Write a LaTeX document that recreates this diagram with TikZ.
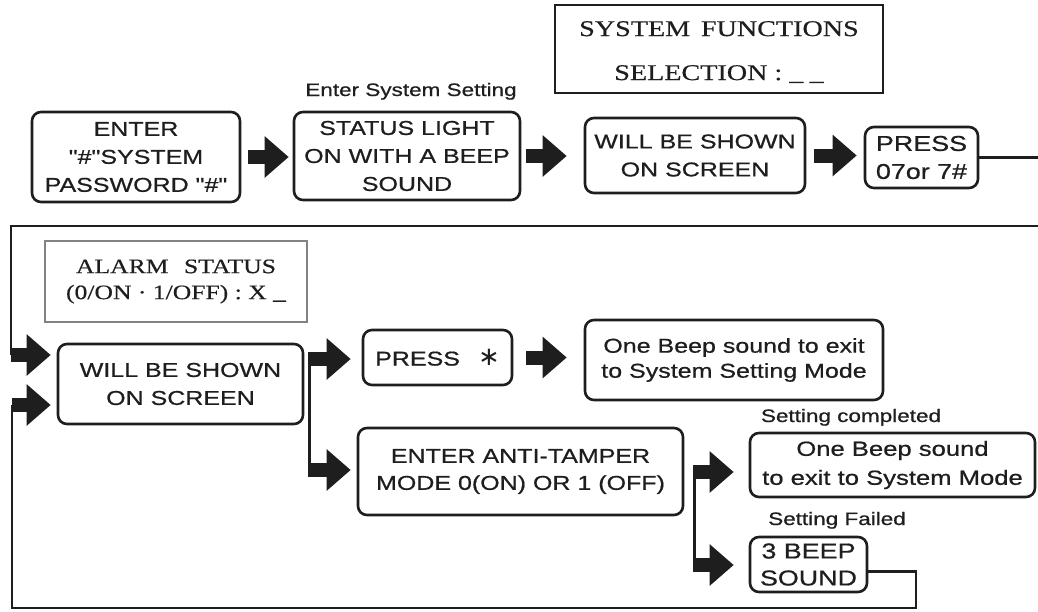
\documentclass[tikz,border=0pt]{standalone}
\usepackage{fontspec}
\newfontfamily\boxsans[FakeStretch=1.25, FakeBold=0.7]{Liberation Sans}
\newfontfamily\boxserif[FakeStretch=1.25, FakeBold=0.5]{Liberation Serif}
\newfontfamily\boxsym{DejaVu Sans}
\usetikzlibrary{arrows.meta, positioning, calc}
\definecolor{Ink}{RGB}{30,30,30}
\definecolor{ScreenGray}{RGB}{130,130,130}

\tikzset{
  stepbox/.style={draw=Ink, line width=2.6pt, rounded corners=9pt, inner sep=0pt,
    align=center, text=Ink, font=\boxsans\fontsize{20}{28}\selectfont},
  screenbox/.style={draw=Ink, line width=2.2pt, inner sep=0pt, align=center, text=Ink},
  steplabel/.style={text=Ink, inner sep=0pt, anchor=base, font=\boxsans\fontsize{18}{20}\selectfont},
  blockarr/.style={draw=Ink, line width=14pt, -{Triangle[length=24pt, width=40pt]}},
  loopline/.style={draw=Ink, line width=2.6pt},
}

\begin{document}
\begin{tikzpicture}[x=1pt, y=-1pt]
  \useasboundingbox (0,0) rectangle (1038,611);

  % top row
  \node[stepbox, minimum width=208pt, minimum height=90pt] (pwd) at (136,157)
    {ENTER\\"\#"SYSTEM\\PASSWORD "\#"};
  \node[stepbox, minimum width=226pt, minimum height=88pt] (status) at (407,156)
    {STATUS LIGHT\\ON WITH A BEEP\\SOUND};
  \node[stepbox, minimum width=220pt, minimum height=75pt] (shownA) at (695,155.5)
    {WILL BE SHOWN\\ON SCREEN};
  \node[stepbox, minimum width=113pt, minimum height=61pt,
        font=\boxsans\fontsize{21.5}{28}\selectfont] (pressNum) at (921.5,157.5)
    {PRESS\\07or 7\#};
  \node[screenbox, minimum width=328pt, minimum height=88pt,
        font=\boxserif\fontsize{22.5}{44}\selectfont] (sysFunc) at (719,49)
    {\rule{0pt}{21pt}SYSTEM\, FUNCTIONS\\SELECTION : \_\;\_};
  \node[steplabel] (enterLbl) at (411,96) {Enter System Setting};

  % lower part
  \node[screenbox, draw=ScreenGray, line width=1.2pt, minimum width=262pt, minimum height=81pt,
        font=\boxserif\fontsize{20.5}{26}\selectfont] (alarm) at (176,281.5)
    {ALARM\;\, STATUS\\(0/ON · 1/OFF) : X \_};
  \node[stepbox, minimum width=245pt, minimum height=80pt] (shownB) at (180.5,384)
    {WILL BE SHOWN\\ON SCREEN};
  \node[stepbox, minimum width=149pt, minimum height=55pt] (pressStar) at (437.5,357.5)
    {PRESS\;\; {\boxsym\fontsize{26}{26}\selectfont ∗}};
  \node[stepbox, minimum width=298pt, minimum height=80pt,
        font=\boxsans\fontsize{20}{25}\selectfont] (exitSet) at (734,360)
    {One Beep sound to exit\\to System Setting Mode};
  \node[stepbox, minimum width=325pt, minimum height=87pt,
        font=\boxsans\fontsize{20}{27}\selectfont] (tamper) at (520.5,471.5)
    {ENTER ANTI-TAMPER\\MODE 0(ON) OR 1 (OFF)};
  \node[stepbox, minimum width=285pt, minimum height=64pt,
        font=\boxsans\fontsize{20.5}{29}\selectfont] (exitSys) at (892.5,465)
    {One Beep sound\\to exit to System Mode};
  \node[stepbox, minimum width=117pt, minimum height=55pt,
        font=\boxsans\fontsize{21.5}{27}\selectfont] (beepThree) at (808.5,564.5)
    {3 BEEP\\SOUND};
  \node[steplabel] (doneLbl) at (851,422) {Setting completed};
  \node[steplabel] (failLbl) at (837,525) {Setting Failed};

  % loop corners
  \coordinate (topR) at (1042,226);
  \coordinate (topL) at (11,226);
  \coordinate (inA) at (11,355);
  \coordinate (botR) at (916,608);
  \coordinate (botL) at (12,608);
  \coordinate (inB) at (12,405);
  \coordinate (brA) at (309,359);
  \coordinate (brB) at (309,470);
  \coordinate (brC) at (694,472);
  \coordinate (brD) at (694,565);

  % connectors, top row
  \draw[blockarr, shorten <=7pt, shorten >=4pt] (pwd.east) -- (pwd.east -| status.west);
  \draw[blockarr, shorten <=5pt, shorten >=17pt] (status.east) -- (status.east -| shownA.west);
  \draw[blockarr, shorten <=8pt, shorten >=7pt] (shownA.east) -- (shownA.east -| pressNum.west);
  \draw[loopline] (pressNum.east) -- (pressNum.east -| topR) -- (topR) -- (topL) -- (inA);
  \draw[blockarr, shorten >=6pt] (inA) -- (inA -| shownB.west);

  % connectors, lower part
  \draw[loopline, line width=3pt] ($(brA)+(0,-7)$) -- ($(brB)+(0,7)$);
  \draw[blockarr, shorten >=11pt] (brA) -- (brA -| pressStar.west);
  \draw[blockarr, shorten >=6pt] (brB) -- (brB -| tamper.west);
  \draw[blockarr, shorten <=13pt, shorten >=17pt] (pressStar.east) -- (pressStar.east -| exitSet.west);
  \draw[loopline, line width=3pt] ($(brC)+(0,-7)$) -- ($(brD)+(0,7)$);
  \draw[blockarr, shorten >=15pt] (brC) -- (brC -| exitSys.west);
  \draw[blockarr, shorten >=15pt] (brD) -- (brD -| beepThree.west);
  \draw[loopline] ($(beepThree.east)+(0,7)$) -| (botR) -- (botL) -- (inB);
  \draw[blockarr, shorten >=6pt] (inB) -- (inB -| shownB.west);
\end{tikzpicture}
\end{document}
